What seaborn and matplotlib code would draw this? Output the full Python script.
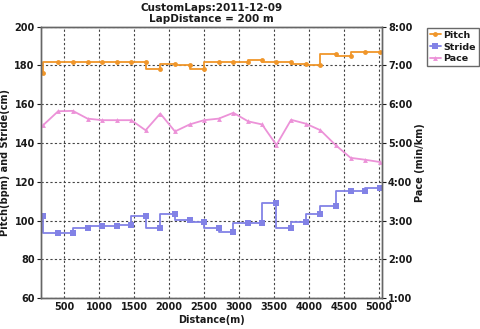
import matplotlib
matplotlib.use("Agg")
import matplotlib.pyplot as plt
import seaborn as sns
import pandas as pd

# ---- data ----
distance = [200, 415, 625, 835, 1045, 1250, 1460, 1665, 1875, 2085, 2295, 2500,
            2710, 2920, 3130, 3330, 3535, 3745, 3955, 4165, 4380, 4595, 4805, 5020]
pitch = [176, 182, 182, 182, 182, 182, 182, 182, 178, 181, 180, 178,
         182, 182, 182, 183, 182, 182, 181, 180, 186, 185, 187, 187]
stride = [102.4, 93.5, 93.5, 96.1, 97.3, 97.3, 97.6, 102.4, 96.2, 103.6, 100.5, 99.5,
          96.1, 94.3, 98.6, 98.6, 109.3, 96.4, 99.5, 103.3, 107.6, 115.4, 115.4, 116.6]
pace = [5.46, 5.82, 5.83, 5.63, 5.59, 5.59, 5.59, 5.33, 5.76, 5.30, 5.48, 5.59,
        5.63, 5.78, 5.56, 5.48, 4.95, 5.60, 5.50, 5.33, 4.95, 4.62, 4.57, 4.51]
x_ticks = [500, 1000, 1500, 2000, 2500, 3000, 3500, 4000, 4500, 5000]
left_ticks = [60, 80, 100, 120, 140, 160, 180, 200]
pace_ticks = [1, 2, 3, 4, 5, 6, 7, 8]
pace_labels = [f"{p}:00" for p in pace_ticks]
title = "CustomLaps:2011-12-09\nLapDistance = 200 m"

df = pd.DataFrame({"distance": distance, "pitch": pitch, "stride": stride, "pace": pace})

sns.set_theme(style="white")
plt.rcParams["font.family"] = ["DejaVu Sans"]
plt.rcParams["font.weight"] = "bold"

c_pitch = "#F0962A"
c_stride = "#8282E6"
c_pace = "#EC92D8"
txt = "#1a1a1a"

fig = plt.figure(figsize=(4.8, 3.29), dpi=100)
ax = fig.add_axes([0.0854, 0.0933, 0.7098, 0.8257])
ax2 = ax.twinx()

sns.lineplot(data=df, x="distance", y="pitch", ax=ax, color=c_pitch, drawstyle="steps-pre",
             marker="o", markersize=3.5, markeredgewidth=0, linewidth=1.3, label="Pitch", legend=False)
sns.lineplot(data=df, x="distance", y="stride", ax=ax, color=c_stride, drawstyle="steps-pre",
             marker="s", markersize=4.5, markeredgewidth=0, linewidth=1.3, label="Stride", legend=False)
sns.lineplot(data=df, x="distance", y="pace", ax=ax2, color=c_pace,
             marker="^", markersize=3.5, markeredgewidth=0, linewidth=1.3, label="Pace", legend=False)

ax.set_xlim(170, 5040)
ax.set_ylim(60, 200)
ax2.set_ylim(1, 8)
ax.set_xticks(x_ticks)
ax.set_yticks(left_ticks)
ax2.set_yticks(pace_ticks)
ax2.set_yticklabels(pace_labels)

ax.grid(True, linestyle=(0, (2, 2)), color="#444444", linewidth=0.8)
ax2.grid(False)

for a in (ax, ax2):
    for s in a.spines.values():
        s.set_color("#666666")
        s.set_linewidth(1.0)
    a.tick_params(labelsize=7, colors=txt, length=3, width=0.8, pad=1.5)
ax.tick_params(axis="x", length=0, pad=3)
for lab in ax.get_xticklabels() + ax.get_yticklabels() + ax2.get_yticklabels():
    lab.set_fontweight("bold")

ax.set_xlabel("Distance(m)", fontsize=7, fontweight="bold", color=txt, labelpad=2)
ax.set_ylabel("Pitch(bpm) and Stride(cm)", fontsize=7, fontweight="bold", color=txt, labelpad=3)
ax2.set_ylabel("Pace (min/km)", fontsize=7, fontweight="bold", color=txt, labelpad=2)
ax.set_title(title, fontsize=7.5, fontweight="bold", color=txt, pad=3, linespacing=1.15)

h1, l1 = ax.get_legend_handles_labels()
h2, l2 = ax2.get_legend_handles_labels()
leg = fig.legend(h1 + h2, l1 + l2, loc="upper left", bbox_to_anchor=(0.889, 0.915),
                 fontsize=6.8, frameon=True, fancybox=False, edgecolor="#444444",
                 handlelength=1.2, handletextpad=0.25, borderpad=0.3, labelspacing=0.3,
                 borderaxespad=0)
leg.get_frame().set_linewidth(1.0)
for t in leg.get_texts():
    t.set_fontweight("bold")
    t.set_color(txt)

fig.savefig("out.png", dpi=100)
